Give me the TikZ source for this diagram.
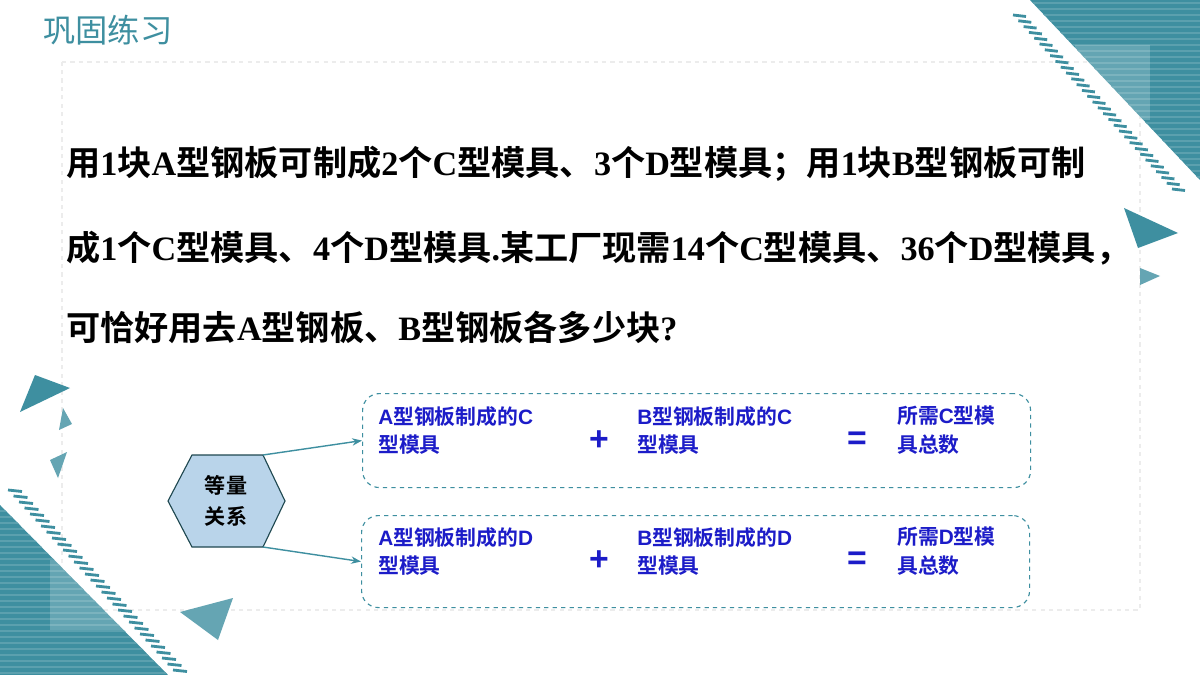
\documentclass[tikz,border=0pt]{standalone}
\usepackage{fontspec}
\setmainfont{Liberation Serif}
\newfontfamily\cjk{Noto Sans CJK SC}
\newfontfamily\cjkb{Noto Sans CJK SC Bold}
\newfontfamily\sansb{Liberation Sans}
\usetikzlibrary{shapes.geometric,arrows.meta}
\definecolor{teal1}{HTML}{3E8FA0}
\definecolor{hexfill}{HTML}{B9D4EA}
\definecolor{bluetxt}{HTML}{1C1CC8}
\newcommand{\lat}[1]{{\bfseries\rmfamily #1}}
\newcommand{\sbx}[1]{{\sansb\bfseries #1}}
\begin{document}
\begin{tikzpicture}[x=0.025cm,y=-0.025cm,
  mainline/.style={anchor=base west,font=\fontsize{24.3}{28}\selectfont\cjkb,inner sep=0},
  boxtxt/.style={anchor=north west,align=left,font=\fontsize{14.8}{20}\selectfont\cjkb,text=bluetxt,inner sep=0},
  op/.style={font=\fontsize{24}{24}\selectfont\sansb\bfseries,text=bluetxt},
  dbox/.style={draw=teal1,dashed,rounded corners=12,line width=0.8pt},
  arr/.style={teal1,line width=1pt,-{Stealth[open,length=7pt]}}]
\useasboundingbox (0,0) rectangle (1200,675);
\fill[white] (0,0) rectangle (1200,675);
% faint panel
\draw[gray!15,dashed,line width=1pt] (62,62) -- (1140,62) -- (1140,610) -- (62,610) -- cycle;
% top-right decoration
\begin{scope}
\clip (1030,0) -- (1200,0) -- (1200,180) -- cycle;
\fill[teal1] (1030,0) rectangle (1200,180);
\foreach \i in {0,...,30} {\draw[teal1!85!white,line width=1pt] (1030,3+\i*6) -- (1200,3+\i*6);}
\end{scope}
\fill[white,opacity=0.2] (1075,45) rectangle (1150,120);
\foreach \i in {0,...,30} {\draw[teal1,line width=2pt] ({1013+\i*5.3},{15+\i*5.8}) -- ++(13,1.5);}
\fill[teal1] (1124,208) -- (1178,233) -- (1138,248) -- cycle;
\fill[teal1!80] (1140,268) -- (1160,276) -- (1140,285) -- cycle;
% bottom-left decoration
\begin{scope}
\clip (0,505) -- (0,675) -- (168,675) -- cycle;
\fill[teal1] (0,500) rectangle (170,675);
\foreach \i in {0,...,30} {\draw[teal1!85!white,line width=1pt] (0,505+\i*6) -- (170,505+\i*6);}
\end{scope}
\fill[white,opacity=0.2] (50,560) rectangle (130,630);
\foreach \i in {0,...,30} {\draw[teal1,line width=2pt] ({8+\i*5.5},{490+\i*6}) -- ++(14,1.5);}
\fill[teal1] (35,375) -- (70,388) -- (20,412) -- cycle;
\fill[teal1!80] (63,408) -- (72,424) -- (59,430) -- cycle;
\fill[teal1!80] (50,460) -- (67,452) -- (58,478) -- cycle;
\fill[teal1!80] (180,612) -- (233,598) -- (218,640) -- cycle;
% title
\node[anchor=west,font=\fontsize{23}{23}\selectfont\cjk,text=teal1,inner sep=0] (title) at (43,30) {巩固练习};
% main text
\node[mainline] (l1) at (66,176) {用\lat{1}块\lat{A}型钢板可制成\lat{2}个\lat{C}型模具、\lat{3}个\lat{D}型模具；用\lat{1}块\lat{B}型钢板可制};
\node[mainline] (l2) at (66,260) {成\lat{1}个\lat{C}型模具、\lat{4}个\lat{D}型模具\lat{.}某工厂现需\lat{14}个\lat{C}型模具、\lat{36}个\lat{D}型模具，};
\node[mainline] (l3) at (66,340) {可恰好用去\lat{A}型钢板、\lat{B}型钢板各多少块\lat{?}};
% hexagon
\coordinate (hA) at (263,455);
\coordinate (hB) at (263,547);
\draw[draw=teal1!50!black,fill=hexfill,line width=0.8pt] (168,501) -- (192,455) -- (hA) -- (285,501) -- (hB) -- (192,547) -- cycle;
\node[align=center,font=\fontsize{15}{22}\selectfont\cjkb,inner sep=0] (hex) at (226,501) {等量\\关系};
% boxes
\node[dbox,minimum width=668*0.025cm,minimum height=94*0.025cm,anchor=north west] (b1) at (362,393) {};
\node[dbox,minimum width=668*0.025cm,minimum height=92*0.025cm,anchor=north west] (b2) at (361,515) {};
\draw[arr] (hA) -- (b1.west);
\draw[arr] (hB) -- (b2.west);
\node[boxtxt] (t11) at (378,406) {\sbx{A}型钢板制成的\sbx{C}\\型模具};
\node[boxtxt] (t12) at (637,406) {\sbx{B}型钢板制成的\sbx{C}\\型模具};
\node[boxtxt] (t13) at (897,406) {所需\sbx{C}型模\\具总数};
\node[op] (p1) at (599,441) {+};
\node[op] (e1) at (857,441) {=};
\node[boxtxt] (t21) at (378,527) {\sbx{A}型钢板制成的\sbx{D}\\型模具};
\node[boxtxt] (t22) at (637,527) {\sbx{B}型钢板制成的\sbx{D}\\型模具};
\node[boxtxt] (t23) at (897,527) {所需\sbx{D}型模\\具总数};
\node[op] (p2) at (599,561) {+};
\node[op] (e2) at (857,561) {=};
\end{tikzpicture}
\end{document}
